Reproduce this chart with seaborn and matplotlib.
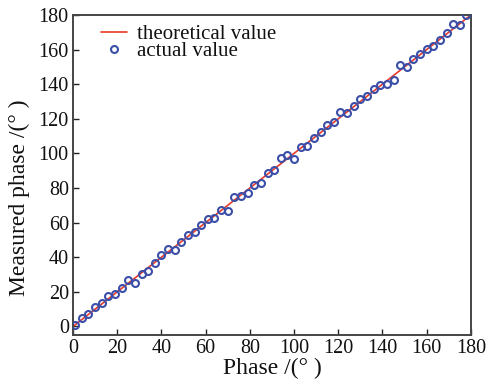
import matplotlib
matplotlib.use("Agg")
import matplotlib.pyplot as plt
import seaborn as sns
import pandas as pd

# Reference (ideal) response
theory_phase = [0, 180]
theory_measured = [0, 180]

# Measured phase at each set phase (degrees)
phase = [1, 4, 7, 10, 13, 16, 19, 22, 25, 28,
         31, 34, 37, 40, 43, 46, 49, 52, 55, 58,
         61, 64, 67, 70, 73, 76, 79, 82, 85, 88,
         91, 94, 97, 100, 103, 106, 109, 112, 115, 118,
         121, 124, 127, 130, 133, 136, 139, 142, 145, 148,
         151, 154, 157, 160, 163, 166, 169, 172, 175, 178]
measured = [0.6, 5.1, 7.0, 11.3, 13.6, 17.4, 18.8, 22.1, 26.7, 25.0,
            30.4, 31.9, 36.5, 41.2, 44.9, 44.3, 48.8, 52.6, 54.6, 58.8,
            61.9, 62.7, 67.1, 66.7, 74.8, 75.2, 77.4, 81.6, 83.0, 88.4,
            90.3, 97.4, 99.0, 96.5, 103.8, 104.2, 108.7, 112.5, 116.4, 118.0,
            123.8, 123.5, 127.6, 131.3, 133.4, 137.3, 139.6, 140.2, 142.5, 151.2,
            150.2, 154.3, 157.2, 160.1, 162.0, 165.5, 169.3, 175.0, 174.2, 180.0]

x_ticks = [0, 20, 40, 60, 80, 100, 120, 140, 160, 180]
y_ticks = [0, 20, 40, 60, 80, 100, 120, 140, 160, 180]

sns.set_theme(style="ticks")
plt.rcParams["font.family"] = ["Liberation Serif", "DejaVu Serif"]

fig = plt.figure(figsize=(4.9, 3.83), dpi=100)
ax = fig.add_axes([0.149, 0.125, 0.812, 0.836])

theory = pd.DataFrame({"phase": theory_phase, "measured": theory_measured})
actual = pd.DataFrame({"phase": phase, "measured": measured})

sns.lineplot(data=theory, x="phase", y="measured", ax=ax, color="#e8392a",
             linewidth=1.2, label="theoretical value")
sns.lineplot(data=actual, x="phase", y="measured", ax=ax, linestyle="none",
             marker="o", markersize=5, markerfacecolor="none",
             markeredgecolor="#3b4fa8", markeredgewidth=1.5,
             color="#3b4fa8", label="actual value", zorder=3)

ax.set_xlim(0, 180)
ax.set_ylim(-5, 180)
ax.set_xticks(x_ticks)
ax.set_yticks(y_ticks)
ax.tick_params(direction="in", length=4, width=1.0, colors="#222222",
               labelsize=14.5, labelcolor="#111111", pad=3)
for side in ["left", "right", "top", "bottom"]:
    ax.spines[side].set_visible(True)
    ax.spines[side].set_color("#444444")
    ax.spines[side].set_linewidth(1.4)

ax.set_xlabel("Phase /(° )", fontsize=17, labelpad=0, color="#111111")
ax.set_ylabel("Measured phase /(° )", fontsize=17, labelpad=2, color="#111111")
ax.yaxis.set_label_coords(-0.108, 0.43)

leg = ax.legend(loc="upper left", frameon=False, fontsize=15,
                bbox_to_anchor=(0.04, 1.01), handlelength=1.25,
                handletextpad=0.45, labelspacing=-0.1, borderaxespad=0.2)
for t in leg.get_texts():
    t.set_color("#111111")

fig.savefig("out.png", dpi=100)
